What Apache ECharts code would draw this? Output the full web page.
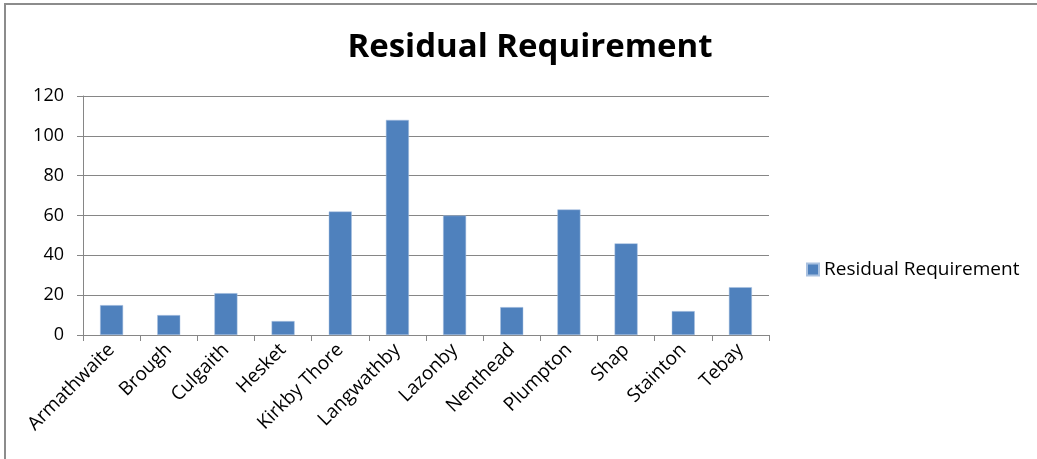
<!DOCTYPE html>
<html>
<head>
<meta charset="utf-8">
<script src="https://cdn.jsdelivr.net/npm/echarts@6/dist/echarts.min.js"></script>
<style>
  html, body { margin: 0; padding: 0; background: #fff; }
  #chart { width: 1037px; height: 459px; }
</style>
</head>
<body>
<div id="chart"></div>
<script>
// 数据
const categories = ['Armathwaite', 'Brough', 'Culgaith', 'Hesket', 'Kirkby Thore', 'Langwathby',
  'Lazonby', 'Nenthead', 'Plumpton', 'Shap', 'Stainton', 'Tebay'];
const residual = [15, 10, 21, 7, 62, 108, 60, 14, 63, 46, 12, 24];
const seriesName = 'Residual Requirement';

const font = '"Open Sans", "Noto Sans", sans-serif';

const chart = echarts.init(document.getElementById('chart'));
chart.setOption({
  animation: false,
  backgroundColor: '#fff',
  // 外边框（只看得到上边和左边）
  graphic: [{
    type: 'polyline',
    shape: { points: [[5, 459], [5, 4], [1037, 4]] },
    style: { fill: 'none', stroke: '#8c8c8c', lineWidth: 2 }
  }],
  title: {
    text: 'Residual Requirement',
    left: 525,
    textAlign: 'center',
    top: 26,
    textStyle: { fontFamily: font, fontWeight: 'bold', fontSize: 33, color: '#000' }
  },
  legend: {
    orient: 'vertical',
    left: 801,
    top: 255,
    icon: 'rect',
    itemWidth: 12,
    itemHeight: 12,
    textStyle: { fontFamily: font, fontSize: 19, color: '#000' },
    data: [seriesName]
  },
  grid: { left: 83, right: 268, top: 96, bottom: 124 },
  xAxis: {
    type: 'category',
    data: categories,
    axisLine: { lineStyle: { color: '#868686' } },
    axisTick: { show: true, length: 6, lineStyle: { color: '#868686' } },
    axisLabel: { rotate: 45, fontFamily: font, fontSize: 19, color: '#000', margin: 12, interval: 0 }
  },
  yAxis: {
    type: 'value',
    min: 0,
    max: 120,
    interval: 20,
    axisLine: { show: true, lineStyle: { color: '#868686' } },
    axisTick: { show: true, length: 6, lineStyle: { color: '#868686' } },
    axisLabel: { fontFamily: font, fontSize: 18, color: '#000', margin: 19 },
    splitLine: { lineStyle: { color: '#868686' } }
  },
  series: [{
    name: seriesName,
    type: 'bar',
    data: residual,
    barWidth: 23,
    itemStyle: { color: '#4f81bd', borderColor: '#a9c1e0', borderWidth: 0.5 }
  }]
});
</script>
</body>
</html>
